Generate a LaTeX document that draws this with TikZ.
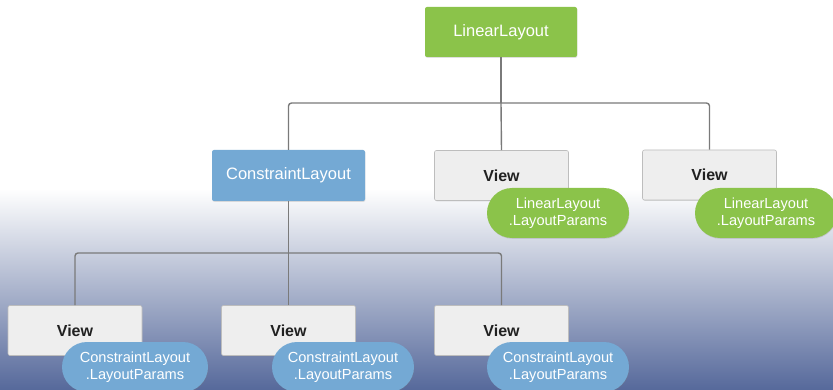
\documentclass[tikz,border=0pt]{standalone}
\usepackage{fontspec}
\setmainfont{Liberation Sans}
\usetikzlibrary{shadows}
\definecolor{lgreen}{HTML}{8BC34A}
\definecolor{lblue}{HTML}{74A9D4}
\definecolor{vfill}{HTML}{EEEEEE}
\definecolor{vborder}{HTML}{BDBDBD}
\definecolor{vtext}{HTML}{212121}
\definecolor{conncol}{HTML}{7A7A7A}
\definecolor{bgdark}{HTML}{55689A}
\begin{document}
\begin{tikzpicture}[x=1pt,y=-1pt,
  box/.style={rectangle, rounded corners=2pt, inner sep=0pt, text=white,
    font=\fontsize{16.5}{19}\selectfont,
    drop shadow={opacity=0.25, shadow xshift=0.4pt, shadow yshift=-0.8pt}},
  llbox/.style={box, fill=lgreen, minimum width=152pt, minimum height=50pt},
  clbox/.style={box, fill=lblue, minimum width=153pt, minimum height=51pt},
  viewbox/.style={box, fill=vfill, draw=vborder, line width=0.6pt, text=vtext,
    font=\fontsize{16}{19}\selectfont\bfseries, minimum width=134pt, minimum height=50pt},
  pill/.style={rectangle, rounded corners=25pt, inner sep=0pt, text=white, align=center,
    font=\fontsize{14.6}{17.5}\selectfont, minimum width=142pt, minimum height=50pt,
    drop shadow={opacity=0.25, shadow xshift=0.4pt, shadow yshift=-0.8pt}},
  gpill/.style={pill, fill=lgreen},
  bpill/.style={pill, fill=lblue},
  conn/.style={draw=conncol, line width=1.4pt, rounded corners=3pt}
]
\useasboundingbox (0,0) rectangle (833,390);
\clip (0,0) rectangle (833,390);
\fill[white] (0,0) rectangle (833,190);
\shade[top color=white, bottom color=bgdark] (0,189) rectangle (833,391);

% nodes
\node[llbox] (ll) at (501,32) {LinearLayout};
\node[clbox] (cl) at (288.5,175.5) {ConstraintLayout};
\node[viewbox] (v2) at (501.5,175.5) {View};
\node[viewbox] (v3) at (709.5,175) {View};

\node[viewbox] (b1) at (75,330.5) {View};
\node[viewbox] (b2) at (288.5,330.5) {View};
\node[viewbox] (b3) at (501.5,330.5) {View};

\coordinate (j1) at (501,103);
\coordinate (j2) at (288.5,253);

% connectors
\draw[conn] (ll.south) -- (j1);
\draw[conn] (cl.north) |- (j1);
\draw[conn] (v3.north) |- (j1);
\draw[conn] (v2.north) -- (j1);
\draw[conn] (cl.south) -- (j2);
\draw[conn] (b1.north) |- (j2);
\draw[conn] (b3.north) |- (j2);
\draw[conn] (b2.north) -- (j2);

% pills
\node[gpill] (p2) at (558,213) {LinearLayout\\.LayoutParams};
\node[gpill] (p3) at (766,213) {LinearLayout\\.LayoutParams};
\node[bpill, minimum width=146pt] (p4) at (135,367) {ConstraintLayout\\.LayoutParams};
\node[bpill] (p5) at (343,367) {ConstraintLayout\\.LayoutParams};
\node[bpill] (p6) at (558,367) {ConstraintLayout\\.LayoutParams};
\end{tikzpicture}
\end{document}
